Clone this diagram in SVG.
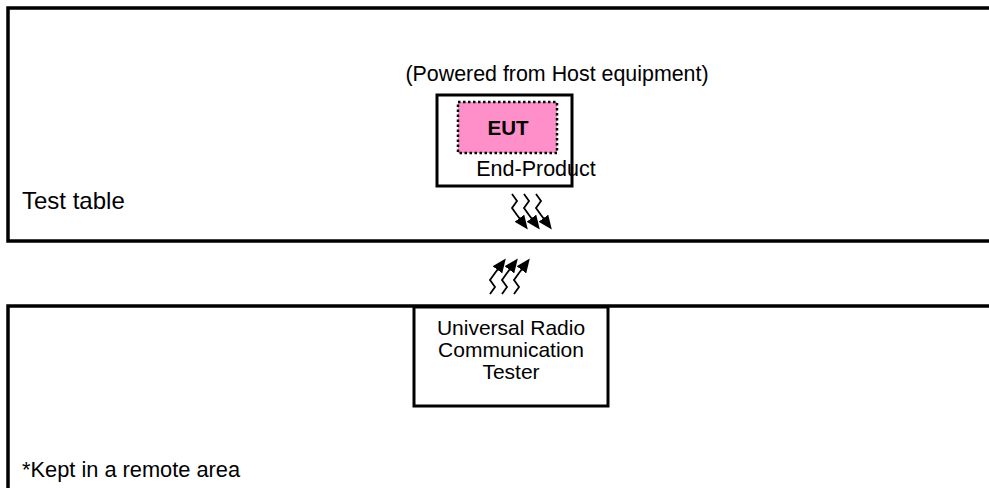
<svg xmlns="http://www.w3.org/2000/svg" xmlns:xlink="http://www.w3.org/1999/xlink" width="989" height="488" viewBox="0 0 989 488">
<style>
.area{fill:#fff;stroke:#000;stroke-width:3.5}
.box{fill:#fff;stroke:#000;stroke-width:3}
.eut{fill:#FF8FC8;stroke:#000;stroke-width:2.5;stroke-dasharray:2.5 2.5}
.t{font-family:"Liberation Sans",Arial,sans-serif;fill:#000}
.zz{fill:none;stroke:#000;stroke-width:1.8}
</style>
<defs>
<marker id="ah" markerUnits="userSpaceOnUse" markerWidth="15" markerHeight="12" refX="1" refY="6" orient="auto">
<path d="M0,0 L14,6 L0,12 Z" fill="#000"/>
</marker>
<g id="waves">
<path class="zz" marker-end="url(#ah)" d="M512,194 L517,201 L512,208 L517,215 L520,219"/>
<path class="zz" marker-end="url(#ah)" d="M524,194 L529,201 L524,208 L529,215 L532,219"/>
<path class="zz" marker-end="url(#ah)" d="M536,194 L541,201 L536,208 L541,215 L544,219"/>
</g>
</defs>
<g id="test-table">
<rect class="area" x="8" y="8" width="990" height="233"/>
<text class="t" x="22" y="209" font-size="24">Test table</text>
</g>
<g id="remote-area">
<rect class="area" x="8" y="306" width="990" height="200"/>
<text class="t" x="22" y="477" font-size="21.8">*Kept in a remote area</text>
</g>
<g id="end-product">
<text class="t" x="557" y="81" font-size="21.4" text-anchor="middle">(Powered from Host equipment)</text>
<rect class="box" x="437" y="95" width="135" height="91"/>
<text class="t" x="536" y="176" font-size="21.5" text-anchor="middle">End-Product</text>
</g>
<g id="eut">
<rect class="eut" x="458" y="102" width="99" height="51"/>
<text class="t" x="508" y="135" font-size="20.5" font-weight="bold" text-anchor="middle">EUT</text>
</g>
<g id="tester">
<rect class="box" x="414" y="307" width="194" height="99"/>
<text class="t" x="511" y="335" font-size="21" text-anchor="middle">Universal Radio</text>
<text class="t" x="511" y="357" font-size="21" text-anchor="middle">Communication</text>
<text class="t" x="511" y="379" font-size="21" text-anchor="middle">Tester</text>
</g>
<g id="connectors">
<use xlink:href="#waves"/>
<use xlink:href="#waves" transform="translate(-22,488) scale(1,-1)"/>
</g>
</svg>
